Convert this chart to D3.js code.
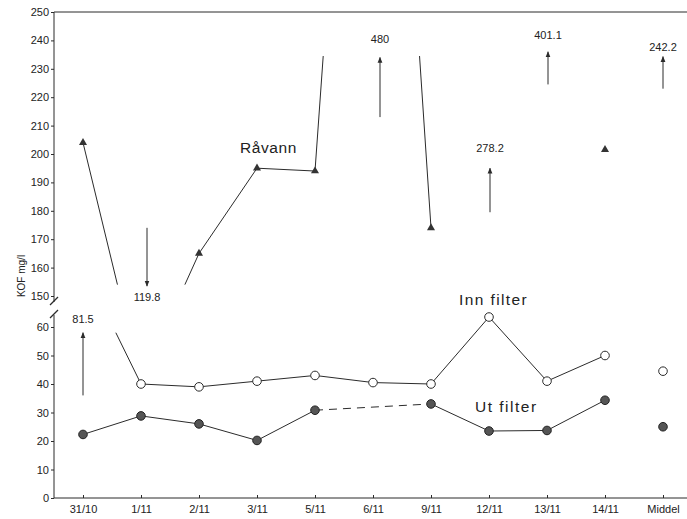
<!DOCTYPE html>
<html>
<head>
<meta charset="utf-8">
<script src="https://cdn.jsdelivr.net/npm/d3@7"></script>
<style>
  body { margin: 0; background: #fff; }
  text { font-family: "Liberation Sans", Arial, sans-serif; fill: #222; }
</style>
</head>
<body>
<svg id="chart" width="687" height="519"></svg>
<script>
// data
const dates = ["31/10", "1/11", "2/11", "3/11", "5/11", "6/11", "9/11", "12/11", "13/11", "14/11", "Middel"];
const raavann = [204, 119.8, 165, 195, 194, 480, 174, 278.2, 401.1, 201.5, 242.2];
const innFilter = [81.5, 40, 39, 41, 43, 40.5, 40, 63.5, 41, 50, 44.5];
const utFilter = [22.3, 28.8, 26, 20.2, 30.8, null, 33, 23.5, 23.7, 34.3, 25];
const upperTicks = [150, 160, 170, 180, 190, 200, 210, 220, 230, 240, 250];
const lowerTicks = [0, 10, 20, 30, 40, 50, 60];

// values that are off the scale get an arrow + number instead of a marker
const raaArrowIdx = [1, 5, 7, 8, 10];
const innArrowIdx = [0];
// arrow tail/head/label in axis units (upper or lower panel)
const arrowNotes = [
  { s: "raa", i: 1, tail: 174, head: 153.5, lab: 148.3, dx: 6 },
  { s: "raa", i: 5, tail: 213, head: 234, lab: 239, dx: 7 },
  { s: "raa", i: 7, tail: 179.5, head: 195, lab: 200.7, dx: 1 },
  { s: "raa", i: 8, tail: 224.5, head: 236, lab: 240.5, dx: 1 },
  { s: "raa", i: 10, tail: 223, head: 234.3, lab: 236.2, dx: 0 },
  { s: "inn", i: 0, tail: 36, head: 58, lab: 61.3, dx: 0 }
];

const svg = d3.select("#chart");
const ink = "#2b2b2b";
const left = 54, right = 687;

const x = d3.scalePoint().domain(dates).range([left, 692]).padding(0.5);
const yU = d3.scaleLinear().domain([150, 250]).range([296, 12]);
const yL = d3.scaleLinear().domain([0, 60]).range([498, 327]);

svg.append("defs").append("marker")
  .attr("id", "ah").attr("viewBox", "0 0 10 10")
  .attr("refX", 9).attr("refY", 5)
  .attr("markerWidth", 6).attr("markerHeight", 6)
  .attr("orient", "auto")
  .append("path").attr("d", "M0,1 L10,5 L0,9 Z").attr("fill", ink);

// axes
function styleAxis(g) {
  g.select(".domain").remove();
  g.selectAll("line").attr("stroke", ink);
  g.selectAll("text").attr("font-size", 11).attr("fill", "#222");
}
svg.append("g").attr("transform", `translate(${left},0)`)
  .call(d3.axisLeft(yU).tickValues(upperTicks).tickSize(3).tickPadding(2))
  .call(styleAxis);
svg.append("g").attr("transform", `translate(${left},0)`)
  .call(d3.axisLeft(yL).tickValues(lowerTicks).tickSize(3).tickPadding(2))
  .call(styleAxis);
svg.append("g").attr("transform", `translate(0,${yL(0)})`)
  .call(d3.axisBottom(x).tickSize(-3).tickPadding(7))
  .call(styleAxis);

// frame lines + axis break
svg.append("line").attr("x1", left).attr("x2", right).attr("y1", yU(250)).attr("y2", yU(250)).attr("stroke", ink);
svg.append("line").attr("x1", left).attr("x2", right).attr("y1", yL(0)).attr("y2", yL(0)).attr("stroke", ink);
svg.append("line").attr("x1", left).attr("x2", left).attr("y1", yU(250)).attr("y2", yU(150) + 6).attr("stroke", ink);
svg.append("line").attr("x1", left).attr("x2", left).attr("y1", yL(60) - 12).attr("y2", yL(0)).attr("stroke", ink);
[[yU(150) + 9, yU(150) + 1], [yL(60) - 9, yL(60) - 17]].forEach(([a, b]) => {
  svg.append("line").attr("x1", left - 4).attr("x2", left + 4).attr("y1", a).attr("y2", b)
    .attr("stroke", ink).attr("stroke-width", 1.2);
});

svg.append("text")
  .attr("transform", `translate(25,${yU(150) - 20}) rotate(-90)`)
  .attr("text-anchor", "middle").attr("font-size", 10).text("KOF mg/l");

// helpers
const px = (ys, vals) => (i) => [x(dates[i]), ys(vals[i])];
function towards(p0, p1, yLim) {
  const t = (yLim - p0[1]) / (p1[1] - p0[1]);
  return [p0[0] + t * (p1[0] - p0[0]), yLim];
}
function seg(a, b, dashed) {
  svg.append("line")
    .attr("x1", a[0]).attr("y1", a[1]).attr("x2", b[0]).attr("y2", b[1])
    .attr("stroke", ink).attr("stroke-width", 1)
    .attr("stroke-dasharray", dashed ? "8,6" : null);
}
// draw a series; segments into an arrowed point stop at yLo/yHi
function drawLine(ys, vals, last, arrowIdx, yHi, yLo) {
  const p = px(ys, vals);
  let prev = null;
  for (let i = 0; i <= last; i++) {
    if (vals[i] == null) continue;
    if (prev != null) {
      let a = p(prev), b = p(i);
      const offA = arrowIdx.includes(prev), offB = arrowIdx.includes(i);
      if (offA) a = towards(b, a, a[1] < b[1] ? yHi : yLo);
      if (offB) b = towards(a, b, b[1] < a[1] ? yHi : yLo);
      seg(a, b, i - prev > 1);
    }
    prev = i;
  }
}

drawLine(yU, raavann, 6, raaArrowIdx, yU(234.5), yU(154));
drawLine(yL, innFilter, 9, innArrowIdx, yL(58), yL(0));
drawLine(yL, utFilter, 9, [], 0, 0);

// markers
const tri = d3.symbol().type(d3.symbolTriangle).size(28);
svg.append("g").selectAll("path")
  .data(raavann.map((v, i) => ({ v, i })).filter(d => !raaArrowIdx.includes(d.i)))
  .join("path")
  .attr("d", tri)
  .attr("transform", d => `translate(${x(dates[d.i])},${yU(d.v)})`)
  .attr("fill", "#333");

svg.append("g").selectAll("circle")
  .data(innFilter.map((v, i) => ({ v, i })).filter(d => !innArrowIdx.includes(d.i)))
  .join("circle")
  .attr("cx", d => x(dates[d.i])).attr("cy", d => yL(d.v)).attr("r", 4.3)
  .attr("fill", "#fff").attr("stroke", ink).attr("stroke-width", 1);

svg.append("g").selectAll("circle")
  .data(utFilter.map((v, i) => ({ v, i })).filter(d => d.v != null))
  .join("circle")
  .attr("cx", d => x(dates[d.i])).attr("cy", d => yL(d.v)).attr("r", 4.3)
  .attr("fill", "#555").attr("stroke", "#222").attr("stroke-width", 1);

// arrows for off-scale values
arrowNotes.forEach(n => {
  const ys = n.s === "raa" ? yU : yL;
  const vals = n.s === "raa" ? raavann : innFilter;
  const cx = x(dates[n.i]) + n.dx;
  svg.append("line")
    .attr("x1", cx).attr("x2", cx).attr("y1", ys(n.tail)).attr("y2", ys(n.head))
    .attr("stroke", ink).attr("stroke-width", 1)
    .attr("marker-end", "url(#ah)");
  svg.append("text")
    .attr("x", cx).attr("y", ys(n.lab))
    .attr("text-anchor", "middle").attr("font-size", 11)
    .text(vals[n.i]);
});

// series names
svg.append("text").attr("x", 240).attr("y", 153).attr("font-size", 15.5)
  .attr("letter-spacing", 0.6).text("Råvann");
svg.append("text").attr("x", 459).attr("y", 305).attr("font-size", 15.5)
  .attr("letter-spacing", 1.4).text("Inn filter");
svg.append("text").attr("x", 475).attr("y", 412).attr("font-size", 15.5)
  .attr("letter-spacing", 1.5).text("Ut filter");
</script>
</body>
</html>
